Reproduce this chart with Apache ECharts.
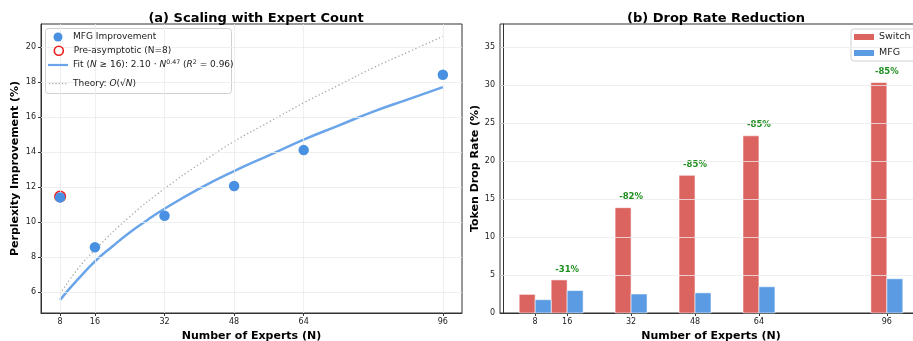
<!DOCTYPE html>
<html><head><meta charset="utf-8">
<script src="https://cdn.jsdelivr.net/npm/echarts@6/dist/echarts.min.js"></script>
<style>html,body{margin:0;padding:0;background:#fff}#c{width:913px;height:341px}</style>
</head><body><div id="c"></div>
<script>
// ---- data ----
const expertCounts = [8, 16, 32, 48, 64, 96];
const mfgImprovement = [11.4, 8.55, 10.35, 12.05, 14.1, 18.4];
const preAsymptotic = [[8, 11.45]];
const fitN = [8, 10, 12, 16, 20, 24, 28, 32, 40, 48, 56, 64, 72, 80, 88, 96];
const fitValues = [5.55, 6.15, 6.7, 7.75, 8.6, 9.4, 10.1, 10.75, 11.9, 12.9, 13.8, 14.7, 15.5, 16.3, 17.0, 17.7];
const theoryN = [8, 12, 16, 24, 32, 40, 48, 56, 64, 72, 80, 88, 96];
const theoryValues = [5.9, 7.3, 8.4, 10.3, 11.9, 13.3, 14.6, 15.7, 16.8, 17.8, 18.8, 19.7, 20.6];
const leftYTicks = [6, 8, 10, 12, 14, 16, 18, 20];
const switchDrop = [2.45, 4.35, 13.85, 18.1, 23.3, 30.3];
const mfgDrop = [1.75, 2.95, 2.5, 2.65, 3.45, 4.5];
const reductionLabels = ['', '-31%', '-82%', '-85%', '-85%', '-85%'];
const rightYTicks = [0, 5, 10, 15, 20, 25, 30, 35];

// ---- styles ----
const FONT = 'DejaVu Sans';
const BAR_W = 4;
const gridColor = '#ebebeb';
const ICON_LINE = 'path://M0,3.9L20,3.9L20,6.1L0,6.1Z';
const ICON_DOT = 'path://M0,4.4h1.3v1.3h-1.3zM3.6,4.4h1.3v1.3h-1.3zM7.2,4.4h1.3v1.3h-1.3zM10.8,4.4h1.3v1.3h-1.3zM14.4,4.4h1.3v1.3h-1.3zM18,4.4h1.3v1.3h-1.3zM0,0h0.01v10h-0.01zM20,0h0.01v10h-0.01z';

const zip = (a, b) => a.map((v, i) => [v, b[i]]);

const chart = echarts.init(document.getElementById('c'), null, {renderer: 'canvas'});

function barRender(side, color) {
  return function (params, api) {
    const n = api.value(0), v = api.value(1);
    const xa = side < 0 ? n - BAR_W : n;
    const xb = side < 0 ? n : n + BAR_W;
    const p0 = api.coord([xa, 0]);
    const p1 = api.coord([xb, v]);
    return {
      type: 'rect',
      shape: {x: p0[0], y: p1[1], width: p1[0] - p0[0], height: p0[1] - p1[1]},
      style: {fill: color, stroke: 'rgba(255,255,255,0.7)', lineWidth: 0.8}
    };
  };
}

const axisName = {fontFamily: FONT, fontSize: 11, fontWeight: 'bold', color: '#000'};
const tickLabel = {fontSize: 8, color: '#222', margin: 5, fontFamily: FONT};
const legText = {
  fontFamily: FONT, fontSize: 9, color: '#222',
  rich: {
    t: {fontFamily: FONT, fontSize: 9, color: '#222'},
    i: {fontFamily: FONT, fontSize: 9, color: '#222', fontStyle: 'italic'},
    s: {fontFamily: FONT, fontSize: 6.3, color: '#222', verticalAlign: 'top', padding: [0, 0, 5, 0]}
  }
};
function leftLegend(item, left, top) {
  return {left: left, top: top, orient: 'vertical', itemWidth: 20, itemHeight: 9,
    padding: [0, 0, 0, 3], z: 6, data: [item], textStyle: legText,
    formatter: function (name) {
      if (name === 'Fit') return '{t|Fit (}{i|N}{t| ≥ 16): 2.10 · }{i|N}{s|0.47}{t| (}{i|R}{s|2}{t| = 0.96)}';
      if (name === 'Theory') return '{t|Theory: }{i|O}{t|(√}{i|N}{t|)}';
      return name;
    }};
}

const option = {
  animation: false,
  textStyle: {fontFamily: FONT},
  title: [
    {text: '(a) Scaling with Expert Count', left: 251, top: 7, textAlign: 'center',
     textStyle: {fontFamily: FONT, fontSize: 13, fontWeight: 'bold', color: '#000'}},
    {text: '(b) Drop Rate Reduction', left: 711, top: 7, textAlign: 'center',
     textStyle: {fontFamily: FONT, fontSize: 13, fontWeight: 'bold', color: '#000'}}
  ],
  grid: [
    {left: 41, right: 451, top: 24, bottom: 28, show: true, borderColor: '#333', borderWidth: 1,
     backgroundColor: 'transparent', outerBoundsMode: 'none', containLabel: false},
    {left: 500, right: -9, top: 24, bottom: 28, show: true, borderColor: '#333', borderWidth: 1,
     backgroundColor: 'transparent', outerBoundsMode: 'none', containLabel: false}
  ],
  graphic: [
    {type: 'rect', left: 45, top: 28, z: 5, silent: true,
     shape: {width: 186, height: 65, r: 3},
     style: {fill: 'rgba(255,255,255,0.85)', stroke: '#d0d0d0', lineWidth: 1}}
  ],
  xAxis: [
    {gridIndex: 0, type: 'value', min: 3.6, max: 100.4,
     name: 'Number of Experts (N)', nameLocation: 'middle', nameGap: 16, nameTextStyle: axisName,
     axisLine: {show: true, lineStyle: {color: '#333'}},
     axisTick: {show: true, customValues: expertCounts, length: 3, lineStyle: {color: '#333'}},
     axisLabel: Object.assign({customValues: expertCounts}, tickLabel),
     splitLine: {show: false}},
    {gridIndex: 1, type: 'value', min: -0.8, max: 104.8,
     name: 'Number of Experts (N)', nameLocation: 'middle', nameGap: 16, nameTextStyle: axisName,
     axisLine: {show: true, lineStyle: {color: '#333'}},
     axisTick: {show: true, customValues: expertCounts, length: 3, lineStyle: {color: '#333'}},
     axisLabel: Object.assign({customValues: expertCounts}, tickLabel),
     splitLine: {show: false}}
  ],
  yAxis: [
    {gridIndex: 0, type: 'value', min: 4.8, max: 21.3,
     name: 'Perplexity Improvement (%)', nameLocation: 'middle', nameGap: 20, nameTextStyle: axisName,
     axisLine: {show: true, lineStyle: {color: '#333'}},
     axisTick: {show: true, customValues: leftYTicks, length: 3, lineStyle: {color: '#333'}},
     axisLabel: Object.assign({customValues: leftYTicks}, tickLabel),
     splitLine: {show: false}},
    {gridIndex: 1, type: 'value', min: 0, max: 38,
     name: 'Token Drop Rate (%)', nameLocation: 'middle', nameGap: 11, nameTextStyle: axisName,
     axisLine: {show: true, lineStyle: {color: '#333'}},
     axisTick: {show: true, customValues: rightYTicks, length: 3, lineStyle: {color: '#333'}},
     axisLabel: Object.assign({customValues: rightYTicks}, tickLabel),
     splitLine: {show: false}}
  ],
  legend: [
    leftLegend({name: 'MFG Improvement', icon: 'circle', itemStyle: {color: '#4a90e2', borderWidth: 0}}, 50.5, 32.5),
    leftLegend({name: 'Pre-asymptotic (N=8)', icon: 'circle',
      itemStyle: {color: '#ffffff', borderColor: '#ee1c1c', borderWidth: 1.6}}, 50.5, 45.5),
    leftLegend({name: 'Fit', icon: ICON_LINE, itemStyle: {color: '#6aa5ea'}}, 45, 59.5),
    leftLegend({name: 'Theory', icon: ICON_DOT, itemStyle: {color: '#a8a8a8'}}, 46, 79),
    {left: 851, top: 29, orient: 'vertical', itemWidth: 20, itemHeight: 6, itemGap: 4,
     padding: [2, 6, 2, 3], borderColor: '#d0d0d0', borderWidth: 1, borderRadius: 3,
     backgroundColor: 'rgba(255,255,255,0.85)',
     data: [{name: 'Switch', icon: 'rect'}, {name: 'MFG', icon: 'rect'}],
     textStyle: {fontFamily: FONT, fontSize: 9.5, color: '#222', lineHeight: 12}}
  ],
  series: [
    {type: 'line', xAxisIndex: 0, yAxisIndex: 0, data: [], silent: true, z: 0,
     markLine: {silent: true, symbol: 'none', label: {show: false},
       lineStyle: {color: gridColor, width: 0.8, type: 'solid'},
       data: expertCounts.map(v => ({xAxis: v})).concat(leftYTicks.map(v => ({yAxis: v})))}},
    {type: 'line', xAxisIndex: 1, yAxisIndex: 1, data: [], silent: true, z: 0,
     markLine: {silent: true, symbol: 'none', label: {show: false},
       lineStyle: {color: gridColor, width: 0.8, type: 'solid'},
       data: rightYTicks.filter(v => v > 0).map(v => ({yAxis: v}))}},
    {name: 'Theory', type: 'line', xAxisIndex: 0, yAxisIndex: 0, smooth: true, showSymbol: false, symbol: 'none',
     data: zip(theoryN, theoryValues), z: 2,
     lineStyle: {color: '#a8a8a8', width: 1.3, type: [1.3, 2.4]}, itemStyle: {color: '#a8a8a8'}},
    {name: 'Fit', type: 'line', xAxisIndex: 0, yAxisIndex: 0, smooth: true, showSymbol: false, symbol: 'none',
     data: zip(fitN, fitValues), z: 3,
     lineStyle: {color: '#6aa5ea', width: 2.5}, itemStyle: {color: '#6aa5ea'}},
    {name: 'Pre-asymptotic (N=8)', type: 'scatter', xAxisIndex: 0, yAxisIndex: 0,
     data: preAsymptotic, symbolSize: 10.5, z: 4,
     itemStyle: {color: 'rgba(255,255,255,0)', borderColor: '#ee1c1c', borderWidth: 1.6, opacity: 1}},
    {name: 'MFG Improvement', type: 'scatter', xAxisIndex: 0, yAxisIndex: 0,
     data: zip(expertCounts, mfgImprovement), symbolSize: 10.5, z: 5,
     itemStyle: {color: '#4a90e2', opacity: 1}},
    {name: 'Switch', type: 'custom', xAxisIndex: 1, yAxisIndex: 1, z: 3,
     data: zip(expertCounts, switchDrop), itemStyle: {color: '#dc6460'},
     renderItem: barRender(-1, '#dc6460')},
    {name: 'MFG', type: 'custom', xAxisIndex: 1, yAxisIndex: 1, z: 3,
     data: zip(expertCounts, mfgDrop), itemStyle: {color: '#5b9be3'},
     renderItem: barRender(1, '#5b9be3')},
    {name: 'labels', type: 'custom', xAxisIndex: 1, yAxisIndex: 1, z: 4, silent: true,
     data: expertCounts.map((n, i) => [n, Math.max(switchDrop[i], mfgDrop[i]), i]),
     renderItem: function (params, api) {
       const i = api.value(2);
       const txt = reductionLabels[i];
       if (!txt) return null;
       const p = api.coord([api.value(0), api.value(1) + 0.8]);
       return {type: 'text', x: p[0], y: p[1],
         style: {text: txt, fill: '#1f8f1f', font: 'bold 8.5px "DejaVu Sans"', align: 'center', verticalAlign: 'bottom'}};
     }}
  ]
};
chart.setOption(option);
</script></body></html>
